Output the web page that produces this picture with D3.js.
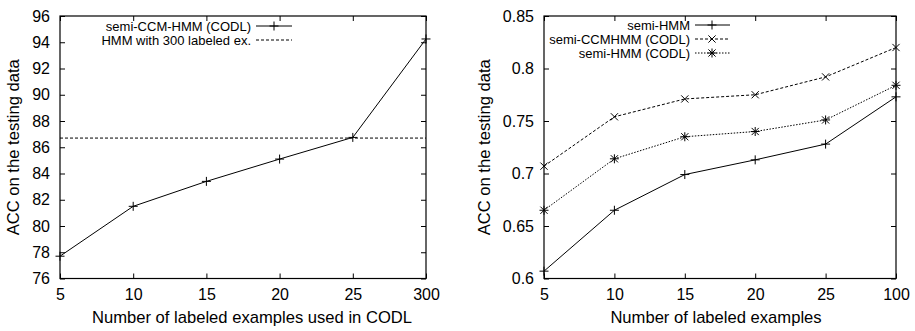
<!DOCTYPE html>
<html>
<head>
<meta charset="utf-8">
<script src="https://cdn.jsdelivr.net/npm/d3@7"></script>
<style>
body { margin: 0; background: #fff; }
svg text { font-family: "Liberation Sans", Arial, sans-serif; fill: #000; }
</style>
</head>
<body>
<div id="chart-area"></div>
<script>

// Data
var leftCategories = ["5", "10", "15", "20", "25", "300"];
var ccmCodl = [77.7, 81.5, 83.4, 85.1, 86.75, 94.25];
var hmm300 = 86.7;
var leftYTicks = [76, 78, 80, 82, 84, 86, 88, 90, 92, 94, 96];

var rightCategories = ["5", "10", "15", "20", "25", "100"];
var semiHmm = [0.607, 0.665, 0.699, 0.713, 0.728, 0.773];
var semiCcmHmmCodl = [0.707, 0.754, 0.771, 0.775, 0.792, 0.820];
var semiHmmCodl = [0.665, 0.714, 0.735, 0.740, 0.751, 0.784];
var rightYTicks = [0.6, 0.65, 0.7, 0.75, 0.8, 0.85];

var W = 915, H = 331;

var svg = d3.select("#chart-area").append("svg")
	.attr("width", W)
	.attr("height", H);

// draw a marker glyph at (x,y)
function marker(g, type, x, y) {
	var s = 4.5;
	var p = g.append("path")
		.attr("fill", "none")
		.attr("stroke", "#000")
		.attr("stroke-width", 1);
	var d = "";
	if (type === "plus" || type === "star") {
		d += "M" + (x - s) + "," + y + "H" + (x + s) + "M" + x + "," + (y - s) + "V" + (y + s);
	}
	if (type === "cross" || type === "star") {
		var c = 3.6;
		d += "M" + (x - c) + "," + (y - c) + "L" + (x + c) + "," + (y + c) +
			"M" + (x - c) + "," + (y + c) + "L" + (x + c) + "," + (y - c);
	}
	p.attr("d", d);
}

function panel(opt) {
	var g = svg.append("g");

	var x = d3.scalePoint()
		.domain(opt.categories)
		.range([opt.left, opt.right]);

	var y = d3.scaleLinear()
		.domain(opt.yDomain)
		.range([opt.bottom, opt.top]);

	// inward ticks, mirrored
	var xAxis = d3.axisBottom(x).tickSizeInner(-5).tickSizeOuter(0).tickPadding(10);
	var xAxisTop = d3.axisTop(x).tickSizeInner(-5).tickSizeOuter(0).tickFormat("");
	var yAxis = d3.axisLeft(y).tickValues(opt.yTicks).tickSizeInner(-5).tickSizeOuter(0)
		.tickPadding(10).tickFormat(opt.yFormat);
	var yAxisRight = d3.axisRight(y).tickValues(opt.yTicks).tickSizeInner(-5).tickSizeOuter(0).tickFormat("");

	var ax = g.append("g")
		.attr("transform", "translate(0," + opt.bottom + ")")
		.call(xAxis);
	g.append("g")
		.attr("transform", "translate(0," + opt.top + ")")
		.call(xAxisTop);
	var ay = g.append("g")
		.attr("transform", "translate(" + opt.left + ",0)")
		.call(yAxis);
	g.append("g")
		.attr("transform", "translate(" + opt.right + ",0)")
		.call(yAxisRight);

	g.selectAll(".domain").remove();
	g.selectAll(".tick line").attr("stroke", "#000");
	ax.selectAll("text").style("font-size", "16px").attr("dy", "0.71em");
	ay.selectAll("text").style("font-size", "16px");

	// frame
	g.append("rect")
		.attr("x", opt.left)
		.attr("y", opt.top)
		.attr("width", opt.right - opt.left)
		.attr("height", opt.bottom - opt.top)
		.attr("fill", "none")
		.attr("stroke", "#000")
		.attr("stroke-width", 1.2);

	// axis titles
	g.append("text")
		.attr("x", opt.xTitleX)
		.attr("y", 323)
		.attr("text-anchor", "middle")
		.style("font-size", "16.6px")
		.text(opt.xTitle);

	g.append("text")
		.attr("transform", "translate(" + opt.yTitleX + "," + ((opt.top + opt.bottom) / 2) + ") rotate(-90)")
		.attr("text-anchor", "middle")
		.attr("dy", "0.35em")
		.style("font-size", "16.6px")
		.text("ACC on the testing data");

	return {g: g, x: x, y: y};
}

// ---------- left panel ----------
var L = panel({
	categories: leftCategories,
	left: 60, right: 426, top: 16, bottom: 278.5,
	yDomain: [76, 96], yTicks: leftYTicks,
	yFormat: d3.format("d"),
	xTitle: "Number of labeled examples used in CODL", xTitleX: 252,
	yTitleX: 13
});

var line = d3.line()
	.x(function(d, i) { return L.x(leftCategories[i]); })
	.y(function(d) { return L.y(d); });

L.g.append("line")
	.attr("x1", 60).attr("x2", 426)
	.attr("y1", L.y(hmm300)).attr("y2", L.y(hmm300))
	.attr("stroke", "#000")
	.attr("stroke-width", 1)
	.attr("stroke-dasharray", "3,2");

L.g.append("path")
	.datum(ccmCodl)
	.attr("d", line)
	.attr("fill", "none")
	.attr("stroke", "#000")
	.attr("stroke-width", 1);

ccmCodl.forEach(function(v, i) {
	marker(L.g, "plus", L.x(leftCategories[i]), L.y(v));
});

// legend
var legL = [
	{name: "semi-CCM-HMM (CODL)", dash: null, mark: "plus"},
	{name: "HMM with 300 labeled ex.", dash: "3,2", mark: null}
];
legL.forEach(function(d, i) {
	var yy = 26 + i * 14;
	L.g.append("text")
		.attr("x", 251).attr("y", yy)
		.attr("dy", "0.35em")
		.attr("text-anchor", "end")
		.style("font-size", "13px")
		.text(d.name);
	L.g.append("line")
		.attr("x1", 256).attr("x2", 292)
		.attr("y1", yy).attr("y2", yy)
		.attr("stroke", "#000")
		.attr("stroke-width", 1)
		.attr("stroke-dasharray", d.dash);
	if (d.mark) marker(L.g, d.mark, 274, yy);
});

// ---------- right panel ----------
var R = panel({
	categories: rightCategories,
	left: 544, right: 896, top: 16, bottom: 278.5,
	yDomain: [0.6, 0.85], yTicks: rightYTicks,
	yFormat: function(d) { return String(+d.toFixed(2)); },
	xTitle: "Number of labeled examples", xTitleX: 716,
	yTitleX: 484
});

var series = [
	{name: "semi-HMM", values: semiHmm, dash: null, mark: "plus"},
	{name: "semi-CCMHMM (CODL)", values: semiCcmHmmCodl, dash: "3,2", mark: "cross"},
	{name: "semi-HMM (CODL)", values: semiHmmCodl, dash: "1.5,1.5", mark: "star"}
];

var lineR = d3.line()
	.x(function(d, i) { return R.x(rightCategories[i]); })
	.y(function(d) { return R.y(d); });

series.forEach(function(s, k) {
	R.g.append("path")
		.datum(s.values)
		.attr("d", lineR)
		.attr("fill", "none")
		.attr("stroke", "#000")
		.attr("stroke-width", 1)
		.attr("stroke-dasharray", s.dash);
	s.values.forEach(function(v, i) {
		marker(R.g, s.mark, R.x(rightCategories[i]), R.y(v));
	});

	var yy = 25 + k * 14;
	R.g.append("text")
		.attr("x", 690).attr("y", yy)
		.attr("dy", "0.35em")
		.attr("text-anchor", "end")
		.style("font-size", "13px")
		.text(s.name);
	R.g.append("line")
		.attr("x1", 695).attr("x2", 730)
		.attr("y1", yy).attr("y2", yy)
		.attr("stroke", "#000")
		.attr("stroke-width", 1)
		.attr("stroke-dasharray", s.dash);
	marker(R.g, s.mark, 712, yy);
});

</script>
</body>
</html>
